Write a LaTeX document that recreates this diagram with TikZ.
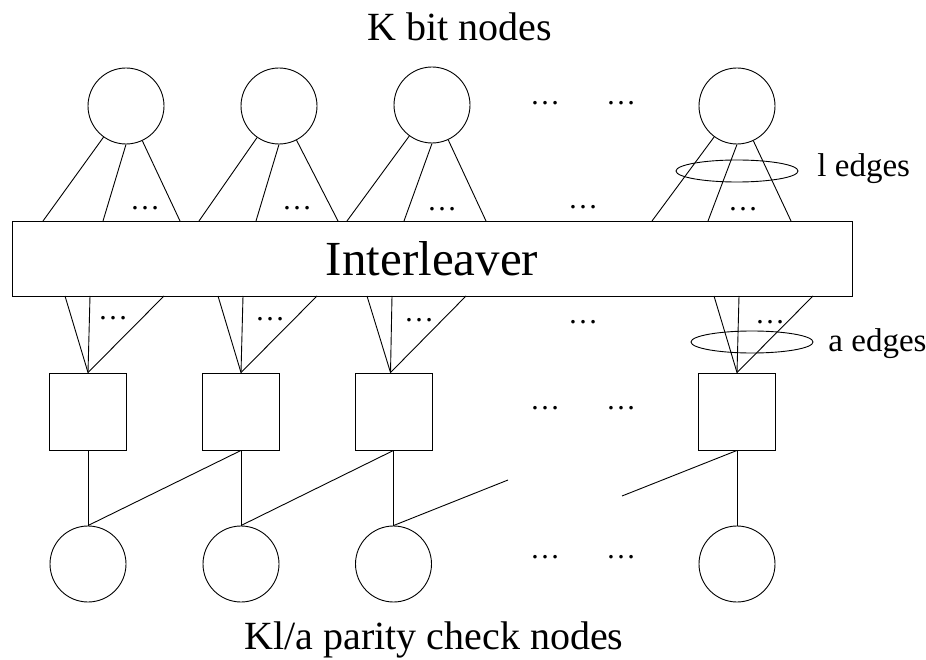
\documentclass[tikz,border=0pt]{standalone}
\usepackage{fontspec}
\setmainfont{Liberation Serif}
\usetikzlibrary{shapes.geometric}

\begin{document}
\begin{tikzpicture}[x=1pt,y=-1pt,line width=0.9pt,
  bitnode/.style={circle,draw=black,minimum size=76pt,inner sep=0pt},
  chknode/.style={rectangle,draw=black,minimum size=77pt,inner sep=0pt},
  dotsnode/.style={inner sep=0pt,font=\fontsize{30}{30}\selectfont},
  ringnode/.style={ellipse,draw=black,minimum width=122pt,minimum height=22pt,inner sep=0pt},
  bigtext/.style={anchor=base,inner sep=0pt,font=\fontsize{40}{44}\selectfont},
  edgetext/.style={anchor=base west,inner sep=0pt,font=\fontsize{33}{36}\selectfont}]
\useasboundingbox (0,0) rectangle (926,660);

\node[bigtext] (ttop) at (460,41) {K bit nodes};
\node[bigtext] (tbot) at (434,649) {Kl/a parity check nodes};

% bit nodes
\node[bitnode] (v1) at (126,106){};
\node[bitnode] (v2) at (279,106){};
\node[bitnode] (v3) at (432,105){};
\node[bitnode] (v4) at (737,106){};
\node[dotsnode] (vd1) at (545,103){\dots};
\node[dotsnode] (vd2) at (621,103){\dots};

% interleaver
\node[rectangle,draw=black,minimum width=840pt,minimum height=75pt,inner sep=0pt,
  font=\fontsize{49}{52}\selectfont] (il) at (432,258.5){Interleaver};

\coordinate (u11) at (43,221);  \coordinate (u12) at (103,221); \coordinate (u13) at (180,221);
\coordinate (u21) at (199,221); \coordinate (u22) at (256,221); \coordinate (u23) at (338,221);
\coordinate (u31) at (347,221); \coordinate (u32) at (404,221); \coordinate (u33) at (486,221);
\coordinate (u41) at (652,221); \coordinate (u42) at (708,221); \coordinate (u43) at (791,221);

\coordinate (d11) at (65,296);  \coordinate (d12) at (90,296);  \coordinate (d13) at (164,296);
\coordinate (d21) at (218,296); \coordinate (d22) at (243,296); \coordinate (d23) at (317,296);
\coordinate (d31) at (367,296); \coordinate (d32) at (392,296); \coordinate (d33) at (466,296);
\coordinate (d41) at (714,296); \coordinate (d42) at (739,296); \coordinate (d43) at (813,296);

\path [-] (v1) edge (u11); \path [-] (v1.south) edge (u12); \path [-] (v1) edge (u13);
\path [-] (v2) edge (u21); \path [-] (v2.south) edge (u22); \path [-] (v2) edge (u23);
\path [-] (v3) edge (u31); \path [-] (v3.south) edge (u32); \path [-] (v3) edge (u33);
\path [-] (v4) edge (u41); \path [-] (v4.south) edge (u42); \path [-] (v4) edge (u43);

\node[dotsnode] (ud1) at (145,208){\dots};
\node[dotsnode] (ud2) at (297,208){\dots};
\node[dotsnode] (ud3) at (442,209){\dots};
\node[dotsnode] (ud0) at (583,207){\dots};
\node[dotsnode] (ud4) at (743,209){\dots};

\node[ringnode] (le) at (737,171){};
\node[edgetext] (lt) at (817,177) {l edges};

% check nodes
\node[chknode] (s1) at (88,411.5){};
\node[chknode] (s2) at (241,411.5){};
\node[chknode] (s3) at (393.5,411.5){};
\node[chknode] (s4) at (737,411.5){};
\node[dotsnode] (sd1) at (545,408){\dots};
\node[dotsnode] (sd2) at (621,408){\dots};

\path [-] (s1.north) edge (d11); \path [-] (s1.north) edge (d12); \path [-] (s1.north) edge (d13);
\path [-] (s2.north) edge (d21); \path [-] (s2.north) edge (d22); \path [-] (s2.north) edge (d23);
\path [-] ([xshift=-3pt]s3.north) edge (d31); \path [-] ([xshift=-3pt]s3.north) edge (d32); \path [-] ([xshift=-3pt]s3.north) edge (d33);
\path [-] (s4.north) edge (d41); \path [-] (s4.north) edge (d42); \path [-] (s4.north) edge (d43);

\node[dotsnode] (dd1) at (113,318){\dots};
\node[dotsnode] (dd2) at (270,319){\dots};
\node[dotsnode] (dd3) at (419,320){\dots};
\node[dotsnode] (dd0) at (583,322){\dots};
\node[dotsnode] (dd4) at (770,322){\dots};

\node[ringnode] (ae) at (752,342){};
\node[edgetext] (at) at (828,351) {a edges};

% parity nodes
\node[bitnode] (p1) at (88,564){};
\node[bitnode] (p2) at (241,564){};
\node[bitnode] (p3) at (393.5,564){};
\node[bitnode] (p4) at (737,564){};
\node[dotsnode] (pd1) at (545,557){\dots};
\node[dotsnode] (pd2) at (621,557){\dots};

\coordinate (z1) at (508,480);
\coordinate (z2) at (622,496);

\path [-] (s1) edge (p1); \path [-] (s2.south) edge (p1.north);
\path [-] (s2) edge (p2); \path [-] (s3.south) edge (p2.north);
\path [-] (s3) edge (p3); \path [-] (p3.north) edge (z1);
\path [-] (s4) edge (p4); \path [-] (s4.south) edge (z2);
\end{tikzpicture}
\end{document}
